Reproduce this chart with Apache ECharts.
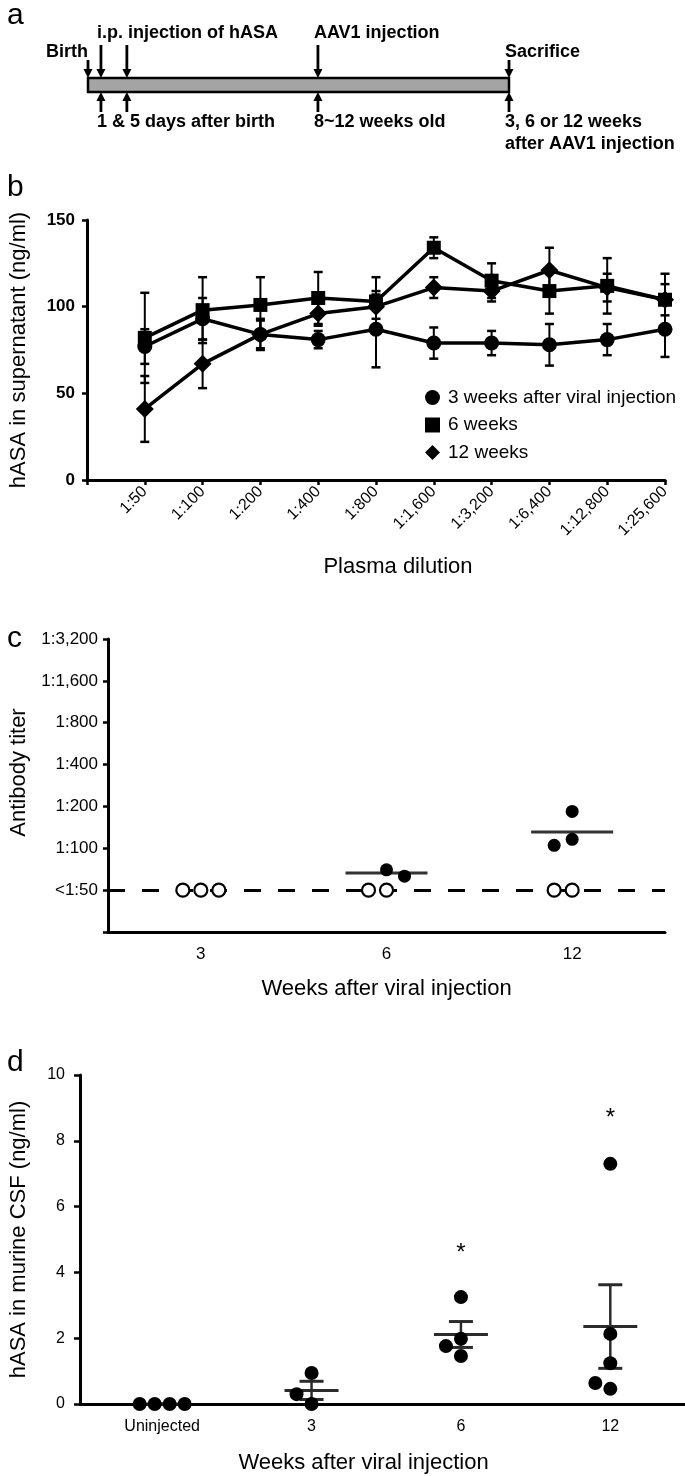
<!DOCTYPE html>
<html><head><meta charset="utf-8">
<script src="https://cdn.jsdelivr.net/npm/echarts@6/dist/echarts.min.js"></script>
<style>html,body{margin:0;padding:0;background:#fff}#c{width:685px;height:1476px}</style>
</head><body><div id="c"></div>
<script>
const FONT = '"Liberation Sans", Arial, Helvetica, sans-serif';

// ---------- panel a : experimental timeline (schematic units) ----------
const tlSpan = [0, 65];
const tlArrows = [[0, 0, 0], [2, 1, 1], [6, 1, 1], [35.5, 1, 1], [65, 0, 1]]; // [position, long down arrow, up arrow]
const tlTopLabels = ['Birth', 'i.p. injection of hASA', 'AAV1 injection', 'Sacrifice'];
const tlTopPos = [0, 2, 35.5, 65];
const tlTopRow = [2, 1, 1, 2];
const tlBottomLabels = ['1 & 5 days after birth', '8~12 weeks old', '3, 6 or 12 weeks\nafter AAV1 injection'];
const tlBottomPos = [2, 35.5, 65];

// ---------- panel b : hASA in supernatant vs plasma dilution ----------
const dilutions = ['1:50', '1:100', '1:200', '1:400', '1:800', '1:1,600', '1:3,200', '1:6,400', '1:12,800', '1:25,600'];
const seriesNames = ['3 weeks after viral injection', '6 weeks', '12 weeks'];
const wk3 = [77, 93, 84, 81, 87, 79, 79, 78, 81, 87];
const wk3Err = [10, 12, 8, 5, 22, 9, 7, 12, 9, 16];
const wk6 = [82, 98, 101, 105, 103, 134, 115, 109, 112, 104];
const wk6Err = [26, 19, 16, 15, 14, 6, 10, 13, 16, 15];
const wk12 = [41, 67, 84, 96, 100, 111, 109, 121, 111, 104];
const wk12Err = [19, 14, 9, 7, 7, 6, 6, 13, 8, 9];
const bYTicks = [0, 50, 100, 150];

// ---------- panel c : antibody titer ----------
const titerWeeks = ['3', '6', '12'];
const titerTickLabels = ['', '<1:50', '1:100', '1:200', '1:400', '1:800', '1:1,600', '1:3,200'];
const undetectedSlots = [[-1, 0, 1], [-1, 0], [-1, 0]];
const detectedTiters = [[], [70, 63], [105, 116, 184]];
const detectedSlots = [[], [0, 1], [-1, 0, 0]];

// ---------- panel d : hASA in murine CSF ----------
const csfGroups = ['Uninjected', '3', '6', '12'];
const csfValues = [[0, 0, 0, 0], [0.30, 0.94, 0], [3.25, 1.76, 1.98, 1.46], [7.3, 2.13, 1.24, 0.64, 0.46]];
const csfSlots = [[-1.5, -0.5, 0.5, 1.5], [-1, 0, 0], [0, -1, 0, 0], [0, 0, 0, -1, 0]];
const csfSignificant = [[2, 4.75], [3, 8.85]];

// ---------- helpers ----------
const level = t => Math.log2(t / 25);
function meanOf(a) { return a.reduce((s, v) => s + v, 0) / a.length; }
function semOf(a) {
  if (a.length < 2) return 0;
  const m = meanOf(a);
  const sd = Math.sqrt(a.reduce((s, v) => s + (v - m) * (v - m), 0) / (a.length - 1));
  return sd / Math.sqrt(a.length);
}
const txt = (size, weight) => ({ fontFamily: FONT, fontSize: size, fontWeight: weight || 'normal', color: '#000' });

function errRender(params, api) {
  const x = api.value(0), m = api.value(1), e = api.value(2);
  const t = api.coord([x, m + e]), b = api.coord([x, m - e]);
  const hw = 4.5, st = { stroke: '#000', lineWidth: 2 };
  return { type: 'group', children: [
    { type: 'line', shape: { x1: t[0], y1: t[1], x2: b[0], y2: b[1] }, style: st },
    { type: 'line', shape: { x1: t[0] - hw, y1: t[1], x2: t[0] + hw, y2: t[1] }, style: { stroke: '#000', lineWidth: 2.5 } },
    { type: 'line', shape: { x1: b[0] - hw, y1: b[1], x2: b[0] + hw, y2: b[1] }, style: { stroke: '#000', lineWidth: 2.5 } }
  ] };
}

const series = [];

// panel a
series.push({
  type: 'custom', xAxisIndex: 0, yAxisIndex: 0, silent: true,
  data: [tlSpan],
  renderItem: (p, api) => {
    const a = api.coord([api.value(0), 1]), b = api.coord([api.value(1), 0]);
    return { type: 'rect', shape: { x: a[0], y: a[1], width: b[0] - a[0], height: b[1] - a[1] },
      style: { fill: '#a4a4a4', stroke: '#000', lineWidth: 2.5 } };
  }
});
series.push({
  type: 'custom', xAxisIndex: 0, yAxisIndex: 0, silent: true,
  data: tlArrows,
  renderItem: (p, api) => {
    const top = api.coord([api.value(0), 1]), bot = api.coord([api.value(0), 0]);
    const x = top[0], len = api.value(1) ? 33 : 18;
    const ch = [
      { type: 'line', shape: { x1: x, y1: top[1] - len, x2: x, y2: top[1] - 6 }, style: { stroke: '#000', lineWidth: 2.8 } },
      { type: 'polygon', shape: { points: [[x - 4.5, top[1] - 9], [x + 4.5, top[1] - 9], [x, top[1]]] }, style: { fill: '#000' } }
    ];
    if (api.value(2)) {
      ch.push({ type: 'line', shape: { x1: x, y1: bot[1] + 20, x2: x, y2: bot[1] + 6 }, style: { stroke: '#000', lineWidth: 2.8 } });
      ch.push({ type: 'polygon', shape: { points: [[x - 4.5, bot[1] + 9], [x + 4.5, bot[1] + 9], [x, bot[1]]] }, style: { fill: '#000' } });
    }
    return { type: 'group', children: ch };
  }
});
series.push({
  type: 'custom', xAxisIndex: 0, yAxisIndex: 0, silent: true,
  data: tlTopPos.map(v => [v, 1]),
  renderItem: (p, api) => {
    const i = p.dataIndex, c = api.coord([api.value(0), 1]);
    const right = i === 0;
    return { type: 'text', x: c[0] + (right ? 0 : -4), y: c[1] - (tlTopRow[i] === 1 ? 45 : 26),
      style: { text: tlTopLabels[i], font: 'bold 18px ' + FONT, fill: '#000', align: right ? 'right' : 'left', verticalAlign: 'middle' } };
  }
});
series.push({
  type: 'custom', xAxisIndex: 0, yAxisIndex: 0, silent: true,
  data: tlBottomPos.map(v => [v, 0]),
  renderItem: (p, api) => {
    const i = p.dataIndex, c = api.coord([api.value(0), 0]);
    return { type: 'text', x: c[0] - 4, y: c[1] + 19,
      style: { text: tlBottomLabels[i], font: 'bold 18px ' + FONT, fill: '#000', align: 'left', verticalAlign: 'top', lineHeight: 22 } };
  }
});

// panel b
const bMeans = [wk3, wk6, wk12], bErrs = [wk3Err, wk6Err, wk12Err];
const bSymbols = ['circle', 'rect', 'diamond'], bSizes = [15, 14, 18];
for (let s = 0; s < 3; s++) {
  series.push({
    type: 'custom', xAxisIndex: 1, yAxisIndex: 1, silent: true, z: 2,
    data: bMeans[s].map((v, i) => [i + 1, v, bErrs[s][i]]),
    renderItem: errRender
  });
}
for (let s = 0; s < 3; s++) {
  series.push({
    name: seriesNames[s], type: 'line', xAxisIndex: 1, yAxisIndex: 1, z: 3 + s,
    data: bMeans[s].map((v, i) => [i + 1, v]),
    symbol: bSymbols[s], symbolSize: bSizes[s], showSymbol: true,
    itemStyle: { color: '#000', opacity: 1 }, lineStyle: { color: '#000', width: 3.5 }
  });
}

// panel c
series.push({
  type: 'scatter', xAxisIndex: 2, yAxisIndex: 2, z: 5, silent: true,
  data: undetectedSlots.flatMap((sl, g) => sl.map(k => ({ value: [g, level(50)], symbolOffset: [k * 18, 0] }))),
  symbol: 'circle', symbolSize: 13,
  itemStyle: { color: '#fff', borderColor: '#000', borderWidth: 2.2, opacity: 1 },
  markLine: { silent: true, symbol: 'none', label: { show: false }, z: 1,
    lineStyle: { color: '#000', width: 3, type: [17, 17], opacity: 1 }, data: [{ yAxis: level(50) }] }
});
series.push({
  type: 'scatter', xAxisIndex: 2, yAxisIndex: 2, z: 5, silent: true,
  data: detectedTiters.flatMap((ts, g) => ts.map((t, j) => ({ value: [g, level(t)], symbolOffset: [detectedSlots[g][j] * 18, 0] }))),
  symbol: 'circle', symbolSize: 13, itemStyle: { color: '#000', opacity: 1 }
});
series.push({
  type: 'scatter', xAxisIndex: 2, yAxisIndex: 2, z: 4, silent: true,
  data: detectedTiters.map((ts, g) => ts.length ? [g, meanOf(ts.map(level))] : null).filter(Boolean),
  symbol: 'rect', symbolSize: [82, 3], itemStyle: { color: '#333', opacity: 1 }
});

// panel d
series.push({
  type: 'custom', xAxisIndex: 3, yAxisIndex: 3, silent: true, z: 3,
  data: csfValues.map((vs, g) => [g, meanOf(vs), semOf(vs)]),
  renderItem: (p, api) => {
    const g = api.value(0), m = api.value(1), e = api.value(2);
    const c = api.coord([g, m]), t = api.coord([g, m + e]), b = api.coord([g, m - e]);
    const st = { stroke: '#2b2b2b', lineWidth: 3 };
    return { type: 'group', children: [
      { type: 'line', shape: { x1: c[0] - 27, y1: c[1], x2: c[0] + 27, y2: c[1] }, style: st },
      { type: 'line', shape: { x1: t[0], y1: t[1], x2: b[0], y2: b[1] }, style: { stroke: '#2b2b2b', lineWidth: 2.5 } },
      { type: 'line', shape: { x1: t[0] - 12, y1: t[1], x2: t[0] + 12, y2: t[1] }, style: st },
      { type: 'line', shape: { x1: b[0] - 12, y1: b[1], x2: b[0] + 12, y2: b[1] }, style: st }
    ] };
  }
});
series.push({
  type: 'scatter', xAxisIndex: 3, yAxisIndex: 3, z: 5, silent: true,
  data: csfValues.flatMap((vs, g) => vs.map((v, j) => ({ value: [g, v], symbolOffset: [csfSlots[g][j] * 15, 0] }))),
  symbol: 'circle', symbolSize: 14, itemStyle: { color: '#000', opacity: 1 }
});
series.push({
  type: 'custom', xAxisIndex: 3, yAxisIndex: 3, silent: true, z: 5,
  data: csfSignificant,
  renderItem: (p, api) => {
    const c = api.coord([api.value(0), api.value(1)]);
    return { type: 'text', x: c[0], y: c[1] + 6,
      style: { text: '*', font: '24px ' + FONT, fill: '#000', align: 'center', verticalAlign: 'middle' } };
  }
});

const axLine = { show: true, onZero: false, lineStyle: { color: '#000', width: 3 } };
const axTick = len => ({ show: true, length: len, lineStyle: { color: '#000', width: 2.5 } });

const option = {
  animation: false,
  backgroundColor: '#fff',
  graphic: [
    { type: 'text', x: 7, y: 31, style: { text: 'a', font: '30px ' + FONT, fill: '#000', verticalAlign: 'bottom' } },
    { type: 'text', x: 7, y: 203, style: { text: 'b', font: '30px ' + FONT, fill: '#000', verticalAlign: 'bottom' } },
    { type: 'text', x: 7, y: 654, style: { text: 'c', font: '30px ' + FONT, fill: '#000', verticalAlign: 'bottom' } },
    { type: 'text', x: 7, y: 1078, style: { text: 'd', font: '30px ' + FONT, fill: '#000', verticalAlign: 'bottom' } }
  ],
  legend: {
    data: [{ name: seriesNames[0], icon: 'circle' }, { name: seriesNames[1], icon: 'rect' }, { name: seriesNames[2], icon: 'diamond' }],
    orient: 'vertical', left: 420, top: 383, itemWidth: 15, itemHeight: 15, itemGap: 8.5,
    selectedMode: false, textStyle: { fontFamily: FONT, fontSize: 19, color: '#000', lineHeight: 19, padding: [0, 0, 0, 3] },
    itemStyle: { color: '#000' }
  },
  grid: [
    { left: 88, right: 176, top: 78, height: 14 },
    { left: 85, right: 20, top: 220, height: 260 },
    { left: 104, right: 20, top: 639, height: 293 },
    { left: 73, right: 0, top: 1075, height: 329 }
  ],
  xAxis: [
    { gridIndex: 0, type: 'value', min: tlSpan[0], max: tlSpan[1], show: false },
    { gridIndex: 1, type: 'value', min: 0, max: dilutions.length, interval: 1,
      name: 'Plasma dilution', nameLocation: 'middle', nameGap: 76,
      nameTextStyle: Object.assign(txt(22), { padding: [0, 0, 0, 44] }),
      axisLine: axLine, axisTick: axTick(5), splitLine: { show: false },
      axisLabel: Object.assign(txt(16), { rotate: 45, margin: 9, formatter: v => v >= 1 ? dilutions[v - 1] : '' }) },
    { gridIndex: 2, type: 'category', data: titerWeeks,
      name: 'Weeks after viral injection', nameLocation: 'middle', nameGap: 46, nameTextStyle: txt(22),
      axisLine: axLine, axisTick: { show: false }, axisLabel: Object.assign(txt(17), { margin: 14 }) },
    { gridIndex: 3, type: 'value', min: -0.55, max: 3.5,
      name: 'Weeks after viral injection', nameLocation: 'middle', nameGap: 48,
      nameTextStyle: Object.assign(txt(22), { padding: [0, 38, 0, 0] }),
      axisLine: axLine, axisTick: { show: false }, splitLine: { show: false },
      axisLabel: Object.assign(txt(16), { margin: 15, customValues: [0, 1, 2, 3], formatter: v => csfGroups[Math.round(v)] }) }
  ],
  yAxis: [
    { gridIndex: 0, type: 'value', min: 0, max: 1, show: false },
    { gridIndex: 1, type: 'value', min: bYTicks[0], max: bYTicks[bYTicks.length - 1], interval: 50,
      name: 'hASA in supernatant (ng/ml)', nameLocation: 'middle', nameGap: 57, nameTextStyle: txt(22),
      axisLine: axLine, axisTick: axTick(5), splitLine: { show: false },
      axisLabel: Object.assign(txt(17, 'bold'), { margin: 12 }) },
    { gridIndex: 2, type: 'value', min: 0, max: titerTickLabels.length - 1, interval: 1,
      name: 'Antibody titer', nameLocation: 'middle', nameGap: 78, nameTextStyle: Object.assign(txt(22), { padding: [0, 0, 0, 26] }),
      axisLine: axLine, axisTick: axTick(5), splitLine: { show: false },
      axisLabel: Object.assign(txt(17), { margin: 10, formatter: v => titerTickLabels[v] }) },
    { gridIndex: 3, type: 'value', min: 0, max: 10, interval: 2,
      name: 'hASA in murine CSF (ng/ml)', nameLocation: 'middle', nameGap: 50, nameTextStyle: txt(22),
      axisLine: axLine, axisTick: axTick(6), splitLine: { show: false },
      axisLabel: Object.assign(txt(16), { margin: 15 }) }
  ],
  series: series
};

const chart = echarts.init(document.getElementById('c'), null, { renderer: 'canvas' });
chart.setOption(option);
</script>
</body></html>
